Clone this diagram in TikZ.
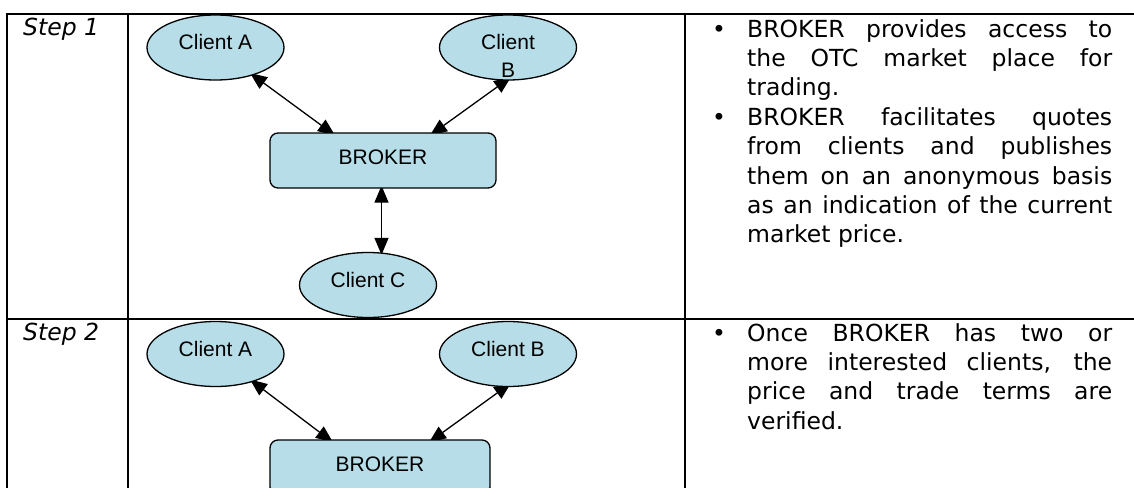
\documentclass[tikz,border=0pt]{standalone}
\usepackage{fontspec}
\setmainfont{DejaVu Sans}[ItalicFont={DejaVu Sans Oblique}]
\newfontfamily\nodefont{Liberation Sans}
\usetikzlibrary{shapes.geometric,arrows.meta,calc}
\definecolor{clientfill}{HTML}{B7DEE8}
\pgfdeclarelayer{bg}
\pgfsetlayers{bg,main}
\begin{document}
\begin{tikzpicture}[x=1pt,y=-1pt,
  client/.style={ellipse,draw,line width=1.3pt,fill=clientfill,minimum width=137pt,minimum height=65pt,inner sep=0pt,font=\nodefont\fontsize{21}{28}\selectfont},
  brokerbox/.style={rectangle,rounded corners=8pt,draw,line width=1.3pt,fill=clientfill,minimum height=55pt,inner sep=0pt,text height=15pt,text depth=8pt,font=\nodefont\fontsize{21}{24}\selectfont},
  link/.style={line width=1.3pt,{Triangle[length=17pt,width=14pt]}-{Triangle[length=17pt,width=14pt]}},
  gridline/.style={line width=2pt,line cap=rect},
  steplabel/.style={anchor=base west,inner sep=0pt,font=\fontsize{23.5}{29.4}\selectfont\itshape},
  desc/.style={anchor=north west,inner sep=0pt,text width=365pt,align=justify,font=\fontsize{23.5}{29.4}\selectfont}
]
\useasboundingbox (0,0) rectangle (1134,487);
\newcommand{\bul}{\noindent\llap{\hbox to 35pt{\textbullet\hfil}}}
\newcommand{\ctext}[1]{\raisebox{-2.5pt}[0pt][0pt]{#1}}

% table
\draw[gridline] (7,14.5) -- (1134,14.5);
\draw[gridline] (7,319) -- (1134,319);
\draw[gridline] (7,14.5) -- (7,487);
\draw[gridline] (128,14.5) -- (128,487);
\draw[gridline] (685,14.5) -- (685,487);

% step labels
\node[steplabel] (s1) at (23,36) {Step 1};
\node[steplabel] (s2) at (23,340.5) {Step 2};

% step 1 diagram
\node[client] (cA1) at (215.5,47.5) {\ctext{Client A}};
\node[client] (cB1) at (508,47.5) {\ctext{\begin{tabular}[t]{@{}c@{}}Client\\B\end{tabular}}};
\node[brokerbox,minimum width=226pt] (b1) at (383,160.5) {BROKER};
\node[client] (cC) at (368,285) {\ctext{Client C}};

% step 2 diagram
\node[client] (cA2) at (215.5,354) {\ctext{Client A}};
\node[client] (cB2) at (508,354) {\ctext{Client B}};
\node[brokerbox,minimum width=220pt] (b2) at (380,467.5) {BROKER};

% connectors (behind the shapes, which hide the arrow tips a little)
\begin{pgfonlayer}{bg}
\coordinate (a1) at ($(cA1.center)+(34.5,25.5)$);
\coordinate (a1b) at ($(b1.north)+(-48,3)$);
\coordinate (b1e) at ($(cB1.center)+(3,29.5)$);
\coordinate (b1b) at ($(b1.north)+(47,3)$);
\coordinate (v1) at ($(b1.south)+(-1.5,-3)$);
\coordinate (v2) at ($(b1.south |- cC.north)+(-1.5,3)$);
\draw[link] (a1) -- (a1b);
\draw[link] (b1e) -- (b1b);
\draw[link] (v1) -- (v2);
\coordinate (a2) at ($(cA2.center)+(34.5,25.5)$);
\coordinate (a2b) at ($(b2.north)+(-47,3)$);
\coordinate (b2e) at ($(cB2.center)+(3,29)$);
\coordinate (b2b) at ($(b2.north)+(49,3)$);
\draw[link] (a2) -- (a2b);
\draw[link] (b2e) -- (b2b);
\end{pgfonlayer}

% descriptions
\node[desc] (d1) at (747,19) {\bul BROKER provides access to\linebreak the OTC market place for\linebreak trading.\par
\bul BROKER facilitates quotes\linebreak from clients and publishes\linebreak them on an anonymous basis\linebreak as an indication of the current\linebreak market price.};
\node[desc] (d2) at (747,323) {\bul Once BROKER has two or\linebreak more interested clients, the\linebreak price and trade terms are\linebreak verified.};
\end{tikzpicture}
\end{document}
